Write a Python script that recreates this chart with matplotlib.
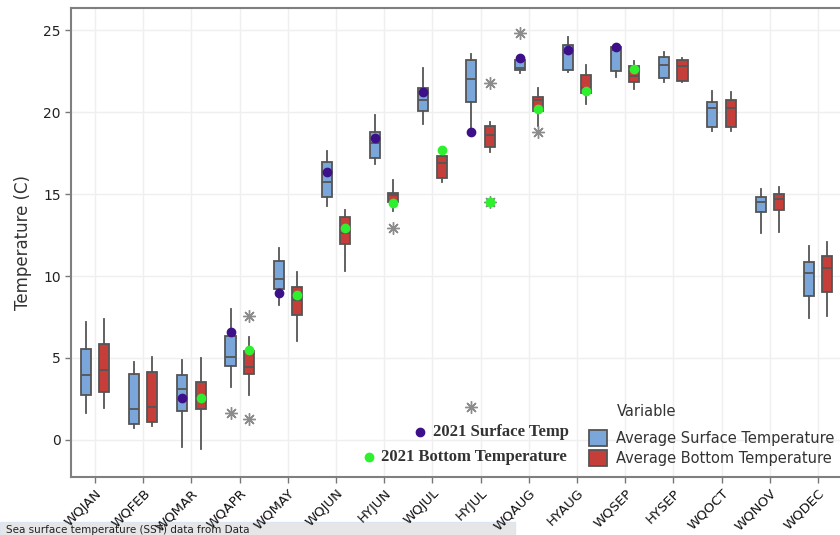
import matplotlib
matplotlib.use("Agg")
import matplotlib.pyplot as plt
from matplotlib.patches import Rectangle

# ----------------------------
# Data
# ----------------------------
months = ["WQJAN", "WQFEB", "WQMAR", "WQAPR", "WQMAY", "WQJUN", "HYJUN", "WQJUL",
          "HYJUL", "WQAUG", "HYAUG", "WQSEP", "HYSEP", "WQOCT", "WQNOV", "WQDEC"]

# average surface temperature boxes
surf_whislo = [1.63, 0.75, -0.45, 3.25, 8.23, 14.29, 16.81, 19.27, 18.80, 22.36, 22.46, 22.15, 21.85, 18.86, 12.60, 7.45]
surf_q1 = [2.76, 0.99, 1.75, 4.53, 9.21, 14.80, 17.22, 20.08, 20.61, 22.56, 22.56, 22.50, 22.05, 19.10, 13.92, 8.80]
surf_med = [3.96, 1.87, 3.09, 5.08, 9.82, 15.71, 18.09, 20.73, 21.99, 22.70, 23.60, 23.80, 22.87, 20.28, 14.53, 10.20]
surf_q3 = [5.55, 4.04, 3.94, 6.36, 10.93, 16.93, 18.76, 21.48, 23.15, 23.19, 24.09, 23.98, 23.37, 20.59, 14.82, 10.85]
surf_whishi = [7.18, 4.78, 4.88, 7.97, 11.69, 17.64, 19.82, 22.70, 23.52, 23.25, 24.59, 24.00, 23.68, 21.30, 15.32, 11.85]
surf_fliers = {3: [1.67], 8: [2.03], 9: [24.80]}

# average bottom temperature boxes
bot_whislo = [1.95, 0.85, -0.55, 2.74, 6.04, 10.30, 13.98, 15.75, 17.56, 19.15, 20.47, 21.38, 21.85, 18.86, 12.70, 7.55]
bot_q1 = [2.95, 1.10, 1.87, 4.02, 7.64, 11.93, 14.53, 15.99, 17.89, 20.08, 21.18, 21.81, 21.89, 19.10, 14.02, 9.00]
bot_med = [4.27, 1.99, 2.60, 4.47, 8.54, 12.60, 14.94, 16.91, 18.60, 20.73, 21.50, 22.20, 22.80, 20.28, 14.70, 10.50]
bot_q3 = [5.83, 4.15, 3.56, 5.43, 9.35, 13.62, 15.08, 17.32, 19.18, 20.90, 22.29, 22.80, 23.17, 20.73, 15.02, 11.20]
bot_whishi = [7.38, 5.08, 4.98, 6.26, 10.26, 14.02, 15.83, 17.48, 19.39, 21.50, 22.90, 23.11, 23.31, 21.20, 15.43, 12.05]
bot_fliers = {3: [7.54, 1.26], 6: [12.90], 8: [21.79, 14.51], 9: [18.80]}

# 2021 observations (index into months)
surf2021_idx = [2, 3, 4, 5, 6, 7, 8, 9, 10, 11]
surf2021 = [2.58, 6.56, 8.94, 16.32, 18.39, 21.20, 18.80, 23.29, 23.78, 23.98]
bot2021_idx = [2, 3, 4, 5, 6, 7, 8, 9, 10, 11]
bot2021 = [2.58, 5.47, 8.84, 12.95, 14.43, 17.70, 14.51, 20.18, 21.30, 22.60]

blue = "#7BA6DA"
red = "#C63E3A"
edge = "#555555"
purple = "#3D108A"
green = "#2EF02E"

fig = plt.figure(figsize=(8.4, 5.35), dpi=100)
ax = fig.add_axes([71 / 840, 58 / 535, 771 / 840, 469 / 535])


def ax_xy(px, py):
    # pixel position in the picture -> axes fraction
    return (px - 71) / 771, (477 - py) / 469


xs = list(range(1, len(months) + 1))
off = 0.19
bw = 0.21


def make_stats(lo, q1, med, q3, hi, fl):
    out = []
    for i in range(len(lo)):
        out.append(dict(whislo=lo[i], q1=q1[i], med=med[i], q3=q3[i], whishi=hi[i],
                        fliers=fl.get(i, [])))
    return out


flier_style = dict(marker=(8, 2, 0), markersize=9, markeredgecolor="#8C8C8C",
                   markeredgewidth=1.0, linestyle="none")
for stats, shift, color in [
    (make_stats(surf_whislo, surf_q1, surf_med, surf_q3, surf_whishi, surf_fliers), -off, blue),
    (make_stats(bot_whislo, bot_q1, bot_med, bot_q3, bot_whishi, bot_fliers), off, red),
]:
    ax.bxp(stats, positions=[x + shift for x in xs], widths=bw, patch_artist=True,
           showcaps=False, manage_ticks=False,
           boxprops=dict(facecolor=color, edgecolor=edge, linewidth=1.3),
           medianprops=dict(color=edge, linewidth=1.3),
           whiskerprops=dict(color=edge, linewidth=1.3),
           flierprops=flier_style)

ax.plot([xs[i] - off for i in surf2021_idx], surf2021, "o", color=purple,
        markersize=6, zorder=5)
ax.plot([xs[i] + off for i in bot2021_idx], bot2021, "o", color=green,
        markersize=6, zorder=5)

# axes styling
ax.set_xlim(0.5, len(months) + 0.5)
ax.set_ylim(-2.26, 26.35)
ax.set_yticks([0, 5, 10, 15, 20, 25])
ax.set_xticks(xs)
ax.set_xticklabels(months, rotation=45, ha="right", rotation_mode="anchor",
                   fontsize=9.5)
ax.tick_params(axis="y", labelsize=10, colors="#333333", labelcolor="#222222")
ax.tick_params(axis="x", colors="#333333", labelcolor="#111111", pad=3)
ax.tick_params(length=4, width=1, color="#777777")
ax.grid(True, color="#EFEFEF", linewidth=1)
ax.set_axisbelow(True)
for s in ax.spines.values():
    s.set_color("#7F7F7F")
    s.set_linewidth(1.5)
ax.set_ylabel("Temperature (C)", fontsize=12, color="#333333", labelpad=8)

# legend for 2021 points (serif bold)
serif = ["Liberation Serif", "DejaVu Serif"]
for (px, py), tx, label, color in [((420, 432), 433, "2021 Surface Temp", purple),
                                   ((369, 457), 381, "2021 Bottom Temperature", green)]:
    mx, my = ax_xy(px, py)
    ax.plot([mx], [my], "o", color=color, markersize=6, transform=ax.transAxes,
            clip_on=False)
    ax.text(ax_xy(tx, py)[0], my, label, transform=ax.transAxes, va="center",
            ha="left", family=serif, fontweight="bold", fontsize=12, color="#333333")

# legend for boxes
handles = [Rectangle((0, 0), 1, 1, facecolor=blue, edgecolor=edge, linewidth=1.3),
           Rectangle((0, 0), 1, 1, facecolor=red, edgecolor=edge, linewidth=1.3)]
leg = ax.legend(handles, ["Average Surface Temperature", "Average Bottom Temperature"],
                loc="lower left", bbox_to_anchor=ax_xy(589, 466),
                frameon=False, fontsize=10.5,
                handlelength=1.25, handleheight=1.25, handletextpad=0.6,
                labelspacing=0.3, borderaxespad=0, borderpad=0)
for t in leg.get_texts():
    t.set_color("#333333")
ax.text(*ax_xy(617, 412), "Variable", transform=ax.transAxes, va="center",
        ha="left", fontsize=10.5, color="#333333")

# grey caption strip at the bottom of the screenshot
fig.add_artist(Rectangle((0, 0), 515 / 840, 13 / 535, transform=fig.transFigure,
                         facecolor="#E6E6E6", edgecolor="#DCE6F2", linewidth=1,
                         zorder=-1))
fig.text(6 / 840, 2 / 535, "Sea surface temperature (SST) data from Data",
         fontsize=7.5, color="#222222", va="baseline")

fig.savefig("out.png", dpi=100)
